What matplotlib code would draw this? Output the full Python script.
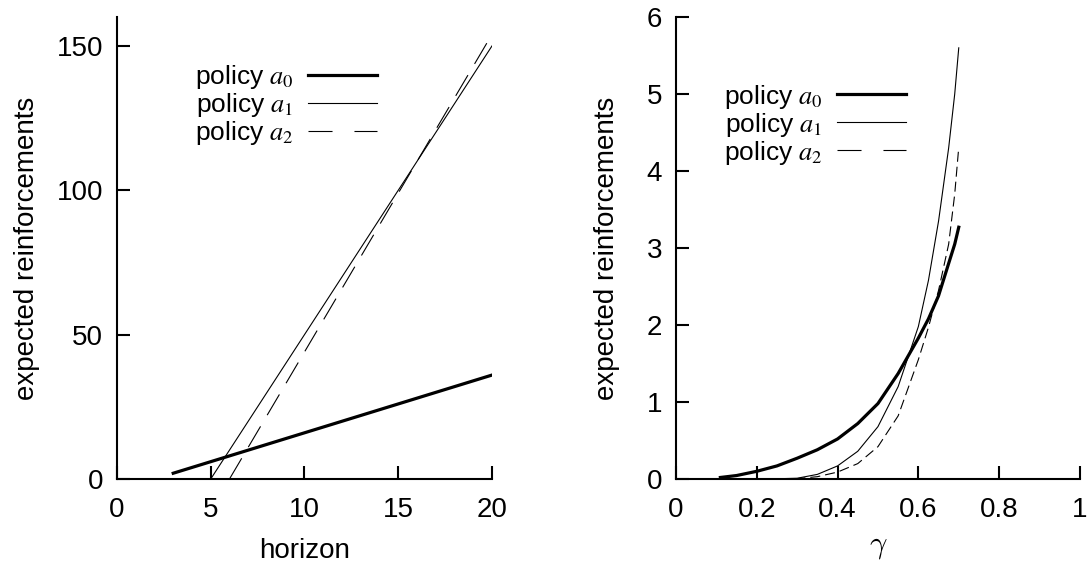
import numpy as np
import matplotlib
matplotlib.use('Agg')
import matplotlib.pyplot as plt

plt.rcParams['font.family'] = ['Liberation Sans', 'DejaVu Sans']
plt.rcParams['mathtext.fontset'] = 'stix'
plt.rcParams['lines.scale_dashes'] = False

# left panel: expected reinforcements vs horizon
horizon_a0 = [3, 4, 5, 6, 7, 8, 9, 10, 11, 12, 13, 14, 15, 16, 17, 18, 19, 20]
reinf_a0 = [2, 4, 6, 8, 10, 12, 14, 16, 18, 20, 22, 24, 26, 28, 30, 32, 34, 36]
horizon_a1 = [5, 6, 7, 8, 9, 10, 11, 12, 13, 14, 15, 16, 17, 18, 19, 20]
reinf_a1 = [0, 10, 20, 30, 40, 50, 60, 70, 80, 90, 100, 110, 120, 130, 140, 150]
horizon_a2 = [6, 7, 8, 9, 10, 11, 12, 13, 14, 15, 16, 17, 18, 19, 20]
reinf_a2 = [0, 11, 22, 33, 44, 55, 66, 77, 88, 99, 110, 121, 132, 143, 154]

# right panel: expected reinforcements vs discount gamma
gamma = [0.11, 0.15, 0.2, 0.25, 0.3, 0.35, 0.4, 0.45, 0.5, 0.55, 0.6, 0.625, 0.65, 0.675, 0.69, 0.7]
disc_a0 = [0.02, 0.045, 0.10, 0.17, 0.27, 0.38, 0.52, 0.72, 0.98, 1.37, 1.83, 2.08, 2.38, 2.80, 3.05, 3.27]
disc_a1 = [0.0, 0.0, 0.001, 0.003, 0.01, 0.06, 0.17, 0.36, 0.68, 1.20, 1.98, 2.58, 3.35, 4.30, 5.00, 5.60]
disc_a2 = [0.0, 0.0, 0.0, 0.001, 0.005, 0.03, 0.09, 0.20, 0.42, 0.82, 1.55, 1.97, 2.45, 3.05, 3.70, 4.31]

labels = ['policy $a_0$', 'policy $a_1$', 'policy $a_2$']

fig = plt.figure(figsize=(10.89, 5.64), dpi=100)
ax1 = fig.add_axes([0.1074, 0.1507, 0.3444, 0.8191])
ax2 = fig.add_axes([0.6207, 0.1507, 0.371, 0.8191])

for ax in (ax1, ax2):
    ax.spines['top'].set_visible(False)
    ax.spines['right'].set_visible(False)
    ax.spines['left'].set_linewidth(1.5)
    ax.spines['bottom'].set_linewidth(1.5)
    ax.tick_params(direction='in', length=9.5, width=1.5, labelsize=20)
    ax.tick_params(axis='x', pad=13)
    ax.tick_params(axis='y', pad=10)

# left
l0, = ax1.plot(horizon_a0, reinf_a0, color='black', lw=2.3, label=labels[0])
l1, = ax1.plot(horizon_a1, reinf_a1, color='black', lw=0.8, label=labels[1])
l2, = ax1.plot(horizon_a2, reinf_a2, color='black', lw=0.8, label=labels[2],
               dashes=(17.3, 9.4))
ax1.set_xlim(0, 20)
ax1.set_ylim(0, 160)
ax1.set_xticks([0, 5, 10, 15, 20])
ax1.set_yticks([0, 50, 100, 150])
ax1.set_xlabel('horizon', fontsize=20, labelpad=11)
ax1.set_ylabel('expected reinforcements', fontsize=20, labelpad=12)
leg1 = ax1.legend(loc='upper left', bbox_to_anchor=(0.208, 0.901), frameon=False,
                  markerfirst=False, fontsize=19, handlelength=2.6, handletextpad=0.55,
                  labelspacing=0.0, borderpad=0, borderaxespad=0)
leg1.get_lines()[2].set_dashes((17.3, 15.8))

# right
r0, = ax2.plot(gamma, disc_a0, color='black', lw=2.3, label=labels[0])
r1, = ax2.plot(gamma, disc_a1, color='black', lw=0.8, label=labels[1])
r2, = ax2.plot(gamma, disc_a2, color='black', lw=0.8, label=labels[2],
               dashes=(7.2, 3.6))
ax2.set_xlim(0, 1)
ax2.set_ylim(0, 6)
ax2.set_xticks([0, 0.2, 0.4, 0.6, 0.8, 1])
ax2.set_xticklabels(['0', '0.2', '0.4', '0.6', '0.8', '1'])
ax2.set_yticks([0, 1, 2, 3, 4, 5, 6])
ax2.set_xlabel(r'$\gamma$', fontsize=22, labelpad=6, math_fontfamily='cm')
ax2.set_ylabel('expected reinforcements', fontsize=20, labelpad=19)
leg2 = ax2.legend(loc='upper left', bbox_to_anchor=(0.119, 0.858), frameon=False,
                  markerfirst=False, fontsize=19, handlelength=2.6, handletextpad=0.55,
                  labelspacing=0.0, borderpad=0, borderaxespad=0)
leg2.get_lines()[2].set_dashes((17.3, 15.8))

plt.savefig('out.png', dpi=100)
plt.close()
